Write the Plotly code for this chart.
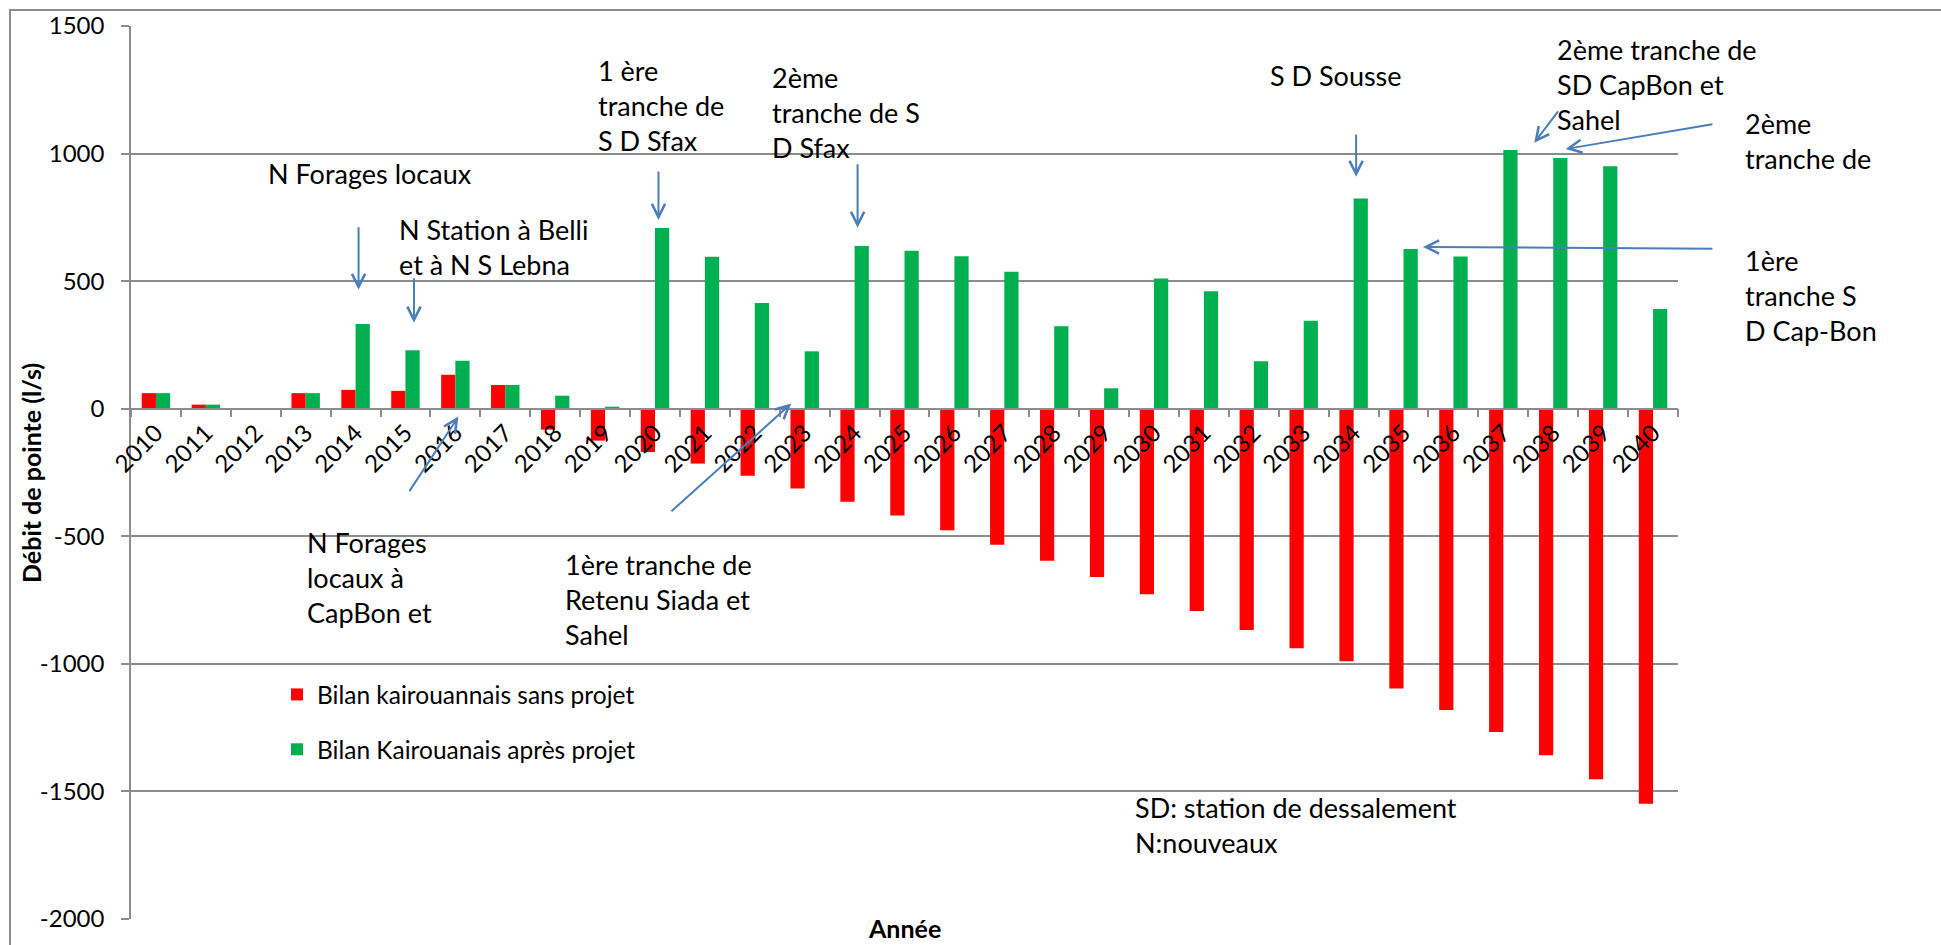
import plotly.graph_objects as go

# --- data -------------------------------------------------------------------
years = [str(y) for y in range(2010, 2041)]

sans_projet = [61, 16, 2, 61, 74, 70, 133, 93, -82, -125,
               -170, -215, -263, -313, -365, -419, -476, -533, -596, -660,
               -727, -793, -867, -939, -990, -1097, -1181, -1267, -1358, -1452,
               -1548]

apres_projet = [61, 16, 1, 61, 332, 229, 188, 93, 51, 8,
                708, 596, 414, 225, 638, 619, 598, 537, 323, 80,
                510, 460, 186, 345, 824, 626, 597, 1014, 983, 950,
                391]

y_ticks = [1500, 1000, 500, 0, -500, -1000, -1500, -2000]
y_tick_text = [str(v) for v in y_ticks]  # plain hyphen for negatives

# --- page geometry ----------------------------------------------------------
W, H = 1941, 945
ML, MR, MT, MB = 131, 263, 26, 26
PW, PH = W - ML - MR, H - MT - MB
Y_MIN, Y_MAX = -2000, 1500
ZERO_POS = (0 - Y_MIN) / (Y_MAX - Y_MIN)

GRID = "#8c8c8c"
ARROW = "#4a7ebb"
FONT = "Lato"


def px(xpix):
    return (xpix - ML) / PW


def py(ypix):
    return (H - MB - ypix) / PH


fig = go.Figure()
fig.add_trace(go.Bar(
    x=years, y=sans_projet, name="Bilan kairouannais sans projet",
    marker=dict(color="#ff0000", line=dict(width=0)), legendgroup="a",
))
fig.add_trace(go.Bar(
    x=years, y=apres_projet, name="Bilan Kairouanais après projet",
    marker=dict(color="#00b050", line=dict(width=0)), legendgroup="b",
))

# --- callout texts (paper coordinates) --------------------------------------
notes = [
    ("N Forages locaux", 266, 173),
    ("N Station à Belli<br>et à N S Lebna", 397, 247),
    ("1 ère<br>tranche de<br>S D Sfax", 596, 105),
    ("2ème<br>tranche de S<br>D Sfax", 770, 113),
    ("S D Sousse", 1268, 75),
    ("2ème tranche de<br>SD CapBon et<br>Sahel", 1555, 85),
    ("2ème<br>tranche de", 1743, 141),
    ("1ère<br>tranche S<br>D Cap-Bon", 1743, 295),
    ("N Forages<br>locaux à<br>CapBon et", 305, 577),
    ("1ère tranche de<br>Retenu Siada et<br>Sahel", 563, 599),
    ("SD: station de dessalement<br>N:nouveaux", 1133, 825),
]
annotations = []
for text, xl, yc in notes:
    annotations.append(dict(
        text=text, xref="paper", yref="paper", x=px(xl), y=py(yc),
        xanchor="left", yanchor="middle", align="left", showarrow=False,
        font=dict(family=FONT, size=27, color="#000000"),
    ))

# --- arrows (axis coordinates: category index, value) -----------------------
arrows = [
    # tail x, tail y, tip x, tip y
    (4.06, 717, 4.06, 466),
    (5.17, 517, 5.17, 337),
    (10.07, 936, 10.07, 740),
    (14.06, 964, 14.06, 709),
    (24.05, 1081, 24.05, 909),
    (28.12, 1171, 27.62, 1042),
    (31.22, 1116, 28.25, 1018),
    (31.22, 627, 25.39, 634),
    (5.06, -329, 6.06, -31),
    (10.30, -407, 12.73, 20),
]
for tx, ty, hx, hy in arrows:
    annotations.append(dict(
        text="", x=hx, y=hy, xref="x", yref="y",
        ax=tx, ay=ty, axref="x", ayref="y",
        showarrow=True, arrowhead=5, arrowsize=1.3, arrowwidth=2,
        arrowcolor=ARROW, standoff=0, startstandoff=0,
    ))

# --- axis titles ------------------------------------------------------------
annotations.append(dict(
    text="<b>Année</b>", xref="paper", yref="paper", x=0.5, y=py(928),
    xanchor="center", yanchor="middle", showarrow=False,
    font=dict(family=FONT, size=25, color="#000000"),
))
annotations.append(dict(
    text="<b>Débit de pointe (l/s)</b>", xref="paper", yref="paper",
    x=px(31), y=py(473), xanchor="center", yanchor="middle",
    textangle=-90, showarrow=False,
    font=dict(family=FONT, size=25, color="#000000"),
))

# chart frame
shapes = [dict(
    type="rect", xref="paper", yref="paper",
    x0=px(10), y0=py(1000), x1=px(2050), y1=py(10),
    line=dict(color=GRID, width=2), fillcolor="rgba(0,0,0,0)", layer="below",
)]

fig.update_layout(
    width=W, height=H,
    margin=dict(l=ML, r=MR, t=MT, b=MB, autoexpand=False),
    paper_bgcolor="white", plot_bgcolor="white",
    barmode="group", bargap=0.43, bargroupgap=0,
    font=dict(family=FONT, color="#000000"),
    showlegend=True,
    legend=dict(
        x=px(277), y=py(672), xanchor="left", yanchor="top",
        bgcolor="rgba(0,0,0,0)", borderwidth=0,
        font=dict(family=FONT, size=24.5, color="#000000"),
        tracegroupgap=20,
    ),
    xaxis=dict(
        type="category", categoryorder="array", categoryarray=years,
        range=[-0.5, len(years) - 0.5],
        anchor="free", position=ZERO_POS,
        showline=True, linecolor=GRID, linewidth=1.5,
        ticks="outside", tickson="boundaries", ticklen=8, tickwidth=1.5,
        tickcolor=GRID, tickangle=-45,
        tickfont=dict(family=FONT, size=24, color="#000000"),
        showgrid=False, zeroline=False,
    ),
    xaxis2=dict(
        overlaying="x", anchor="free", position=ZERO_POS, type="linear",
        range=[-0.5, len(years) - 0.5],
        tickvals=[i - 0.5 for i in range(len(years) + 1)],
        ticks="inside", ticklen=8, tickwidth=1.5, tickcolor=GRID,
        showticklabels=False, showgrid=False, zeroline=False, showline=False,
    ),
    yaxis=dict(
        range=[Y_MIN, Y_MAX], tickvals=y_ticks, ticktext=y_tick_text,
        showgrid=True, gridcolor=GRID, gridwidth=1.5,
        showline=True, linecolor=GRID, linewidth=1.5,
        ticks="outside", ticklen=8, tickwidth=1.5, tickcolor=GRID,
        tickfont=dict(family=FONT, size=24, color="#000000"),
        ticklabelstandoff=12,
        zeroline=False,
    ),
    annotations=annotations,
    shapes=shapes,
)

fig.write_html("out.html")
